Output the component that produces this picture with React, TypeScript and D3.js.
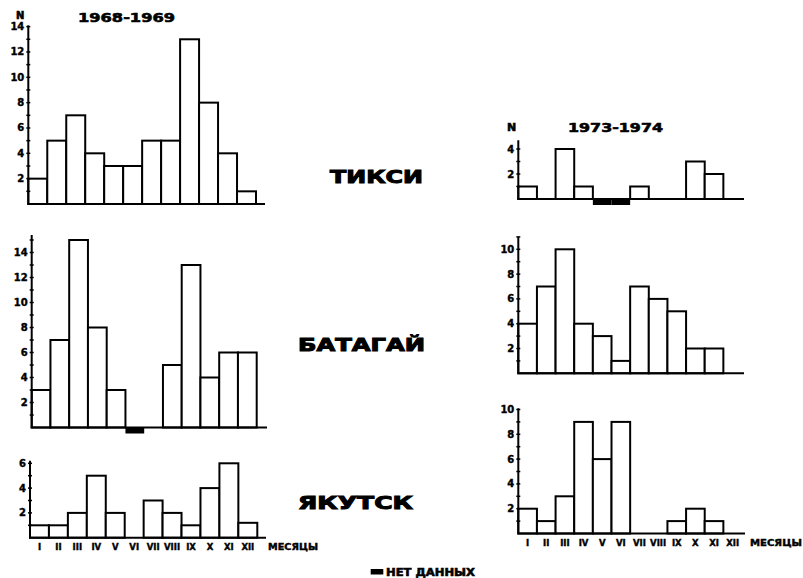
import React from "react";
import * as d3 from "d3";

// ---- data ----
const months = ["I", "II", "III", "IV", "V", "VI", "VII", "VIII", "IX", "X", "XI", "XII"];
// null = нет данных
const tiksi1968: (number | null)[] = [2, 5, 7, 4, 3, 3, 5, 5, 13, 8, 4, 1];
const batagai1968: (number | null)[] = [3, 7, 15, 8, 3, null, 0, 5, 13, 4, 6, 6];
const yakutsk1968: (number | null)[] = [1, 1, 2, 5, 2, 0, 3, 2, 1, 4, 6, 1.2];
const tiksi1973: (number | null)[] = [1, 0, 4, 1, null, null, 1, 0, 0, 3, 2, 0];
const batagai1973: (number | null)[] = [4, 7, 10, 4, 3, 1, 7, 6, 5, 2, 2, 0];
const yakutsk1973: (number | null)[] = [2, 1, 3, 9, 6, 9, 0, 0, 1, 2, 1, 0];

const ticks14 = [2, 4, 6, 8, 10, 12, 14];
const ticks6 = [2, 4, 6];
const ticks4 = [2, 4];
const ticks10 = [2, 4, 6, 8, 10];

const periods = ["1968-1969", "1973-1974"];
const stations = ["ТИКСИ", "БАТАГАЙ", "ЯКУТСК"];
const axisLetter = "N";
const monthsLabel = "МЕСЯЦЫ";
const noDataLabel = "НЕТ ДАННЫХ";

const FONT = "'DejaVu Sans', sans-serif";

type PanelCfg = {
  values: (number | null)[];
  ticks: number[];
  baseline: number;
  k: number;
  axisTop: number;
  x0: number;
  x1: number;
  axisEnd: number;
  showMonths?: boolean;
  monthY?: number;
  monthsLabelX?: number;
  monthsLabelW?: number;
};

const panels: PanelCfg[] = [
  { values: tiksi1968, ticks: ticks14, baseline: 204, k: 12.67, axisTop: 14.1, x0: 28.3, x1: 256, axisEnd: 265 },
  { values: batagai1968, ticks: ticks14, baseline: 427.5, k: 12.5, axisTop: 15.4, x0: 31.7, x1: 256.7, axisEnd: 267 },
  { values: yakutsk1968, ticks: ticks6, baseline: 537.7, k: 12.4, axisTop: 6.2, x0: 30, x1: 257.3, axisEnd: 266, showMonths: true, monthY: 550, monthsLabelX: 268, monthsLabelW: 50 },
  { values: tiksi1973, ticks: ticks4, baseline: 199, k: 12.5, axisTop: 4.7, x0: 518.3, x1: 742, axisEnd: 744 },
  { values: batagai1973, ticks: ticks10, baseline: 373.3, k: 12.4, axisTop: 11, x0: 518.3, x1: 742, axisEnd: 744 },
  { values: yakutsk1973, ticks: ticks10, baseline: 533.5, k: 12.4, axisTop: 10.1, x0: 518.3, x1: 742, axisEnd: 745, showMonths: true, monthY: 546, monthsLabelX: 750, monthsLabelW: 52 },
];

const heavy = { stroke: "#000", strokeWidth: 0.6, paintOrder: "stroke" } as const;

function Panel({ cfg }: { cfg: PanelCfg }) {
  const x = d3.scaleBand<string>().domain(months).range([cfg.x0, cfg.x1]).padding(0);
  const y = d3.scaleLinear().domain([0, cfg.axisTop]).range([cfg.baseline, cfg.baseline - cfg.axisTop * cfg.k]);
  const minor = d3.range(1, Math.floor(cfg.axisTop) + 1);
  const bw = x.bandwidth();
  return (
    <g>
      {cfg.values.map((v, i) => {
        const m = months[i];
        if (v === null) {
          return <rect key={m} x={x(m)!} y={cfg.baseline} width={bw} height={6} fill="#000" />;
        }
        if (v <= 0) return null;
        return (
          <rect key={m} x={x(m)!} y={y(v)} width={bw} height={cfg.baseline - y(v)} fill="#fff" stroke="#000" strokeWidth={2} />
        );
      })}
      <line x1={cfg.x0} x2={cfg.x0} y1={cfg.baseline} y2={y(cfg.axisTop)} stroke="#000" strokeWidth={2} />
      <line x1={cfg.x0 - 1} x2={cfg.axisEnd} y1={cfg.baseline} y2={cfg.baseline} stroke="#000" strokeWidth={2} />
      {minor.map((t) => (
        <line key={"m" + t} x1={cfg.x0 - 2} x2={cfg.x0 + 2} y1={y(t)} y2={y(t)} stroke="#000" strokeWidth={1.5} />
      ))}
      {cfg.ticks.map((t) => (
        <text key={"t" + t} x={cfg.x0 - 4} y={y(t) + 3.5} textAnchor="end" fontFamily={FONT} fontWeight="bold" fontSize={10} fill="#000" {...heavy} strokeWidth={0.4}>
          {t}
        </text>
      ))}
      {cfg.showMonths &&
        months.map((m) => (
          <text key={"l" + m} x={x(m)! + bw / 2} y={cfg.monthY} textAnchor="middle" fontFamily={FONT} fontWeight="bold" fontSize={8.5} fill="#000" {...heavy} strokeWidth={0.4}>
            {m}
          </text>
        ))}
      {cfg.showMonths && (
        <text x={cfg.monthsLabelX} y={cfg.monthY} fontFamily={FONT} fontWeight="bold" fontSize={8.5} textLength={cfg.monthsLabelW} lengthAdjust="spacingAndGlyphs" fill="#000" {...heavy} strokeWidth={0.4}>
          {monthsLabel}
        </text>
      )}
    </g>
  );
}

export default function App() {
  return (
    <svg width={803} height={578} style={{ position: "absolute", left: 0, top: 0, background: "#fff" }}>
      <rect x={0} y={0} width={803} height={578} fill="#fff" />
      {panels.map((p, i) => (
        <Panel key={i} cfg={p} />
      ))}
      {/* titles */}
      <text x={78} y={21.7} fontFamily={FONT} fontWeight="bold" fontSize={12.5} textLength={97} lengthAdjust="spacingAndGlyphs" {...heavy}>
        {periods[0]}
      </text>
      <text x={568} y={131.5} fontFamily={FONT} fontWeight="bold" fontSize={12.5} textLength={95} lengthAdjust="spacingAndGlyphs" {...heavy}>
        {periods[1]}
      </text>
      <text x={16} y={18.5} fontFamily={FONT} fontWeight="bold" fontSize={10} {...heavy}>
        {axisLetter}
      </text>
      <text x={507} y={131} fontFamily={FONT} fontWeight="bold" fontSize={11} {...heavy}>
        {axisLetter}
      </text>
      {/* station names */}
      <text x={330} y={183} fontFamily={FONT} fontWeight="bold" fontSize={17.5} textLength={93} lengthAdjust="spacingAndGlyphs" {...heavy} strokeWidth={1}>
        {stations[0]}
      </text>
      <text x={298} y={350.5} fontFamily={FONT} fontWeight="bold" fontSize={17.5} textLength={127} lengthAdjust="spacingAndGlyphs" {...heavy} strokeWidth={1}>
        {stations[1]}
      </text>
      <text x={298} y={509.3} fontFamily={FONT} fontWeight="bold" fontSize={17.5} textLength={115} lengthAdjust="spacingAndGlyphs" {...heavy} strokeWidth={1}>
        {stations[2]}
      </text>
      {/* legend */}
      <rect x={370.7} y={569} width={12.6} height={5.5} fill="#000" />
      <text x={386} y={575.8} fontFamily={FONT} fontWeight="bold" fontSize={10.5} textLength={89} lengthAdjust="spacingAndGlyphs" {...heavy}>
        {noDataLabel}
      </text>
    </svg>
  );
}
